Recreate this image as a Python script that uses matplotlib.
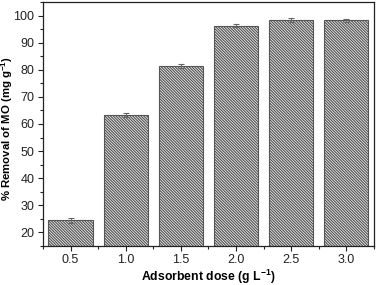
import matplotlib
matplotlib.use("Agg")
import matplotlib.pyplot as plt
from matplotlib.ticker import MultipleLocator

doses = [0.5, 1.0, 1.5, 2.0, 2.5, 3.0]
removal = [24.4, 63.3, 81.5, 96.3, 98.3, 98.3]
errors = [0.8, 0.8, 0.8, 0.7, 0.7, 0.6]
xtick_labels = ["0.5", "1.0", "1.5", "2.0", "2.5", "3.0"]

plt.rcParams['font.family'] = ['Liberation Sans', 'DejaVu Sans']
plt.rcParams['mathtext.fontset'] = 'custom'
plt.rcParams['mathtext.rm'] = 'Liberation Sans:bold'
plt.rcParams['mathtext.bf'] = 'Liberation Sans:bold'
plt.rcParams['mathtext.it'] = 'Liberation Sans:bold'
plt.rcParams['hatch.color'] = '#606060'
plt.rcParams['hatch.linewidth'] = 0.85

fig = plt.figure(figsize=(3.77, 2.85), dpi=100)
ax = fig.add_axes([0.114, 0.137, 0.878, 0.856])

ax.bar(doses, removal, width=0.4, color='#f4f4f4', edgecolor='#555555',
       hatch='\\' * 12, linewidth=0.8, zorder=2)
ax.errorbar(doses, removal, yerr=errors, fmt='none', ecolor='#666666',
            elinewidth=0.8, capsize=2.5, capthick=0.8, zorder=3)

ax.set_xlim(0.25, 3.25)
ax.set_ylim(15, 105)
ax.set_xticks(doses)
ax.set_xticklabels(xtick_labels)
ax.xaxis.set_minor_locator(MultipleLocator(0.25))
ax.set_yticks(range(20, 101, 10))
ax.yaxis.set_minor_locator(MultipleLocator(5))

ax.tick_params(which='both', direction='out', top=False, right=False,
               labelsize=9, width=0.8, colors='#222222')
ax.tick_params(which='major', length=3.6, pad=2.5)
ax.tick_params(which='minor', length=2.2)
for s in ax.spines.values():
    s.set_linewidth(0.9)
    s.set_color('#222222')

ax.set_xlabel("Adsorbent dose (g L$^{-1}$)", fontsize=8.8, fontweight='bold')
ax.set_ylabel("% Removal of MO (mg g$^{-1}$)", fontsize=8.2, fontweight='bold')
ax.xaxis.set_label_coords(0.5, -0.088)
ax.yaxis.set_label_coords(-0.086, 0.48)

fig.savefig("out.png", dpi=100)
